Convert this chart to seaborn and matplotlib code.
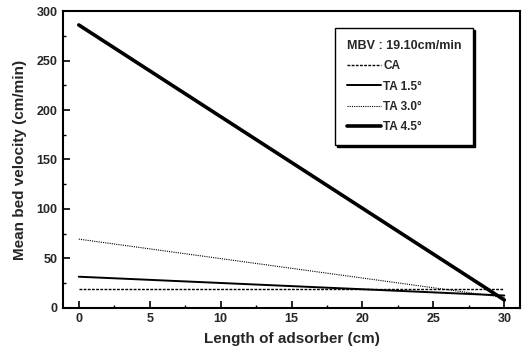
import matplotlib
matplotlib.use("Agg")
import matplotlib.pyplot as plt
import seaborn as sns
import pandas as pd
from matplotlib.ticker import MultipleLocator

sns.set_theme(style="white")
plt.rcParams['font.family'] = ['Liberation Sans', 'DejaVu Sans']

# Data
length_cm = [0, 30]
ca = [19.1, 19.1]
ta15 = [31.5, 12.5]
ta30 = [69.5, 10.5]
ta45 = [286, 8]
series_names = ["CA", "TA 1.5°", "TA 3.0°", "TA 4.5°"]
legend_title = "MBV : 19.10cm/min"

frames = []
for name, vals in zip(series_names, [ca, ta15, ta30, ta45]):
    frames.append(pd.DataFrame({"x": length_cm, "y": vals, "series": name}))
df = pd.concat(frames, ignore_index=True)

fig = plt.figure(figsize=(5.22, 3.58), dpi=100)
ax = fig.add_axes([0.121, 0.140, 0.875, 0.829])

styles = {
    "CA": dict(ls=(0, (2.0, 1.0)), lw=1.0),
    "TA 1.5°": dict(ls="-", lw=1.4),
    "TA 3.0°": dict(ls=(0, (1.0, 1.0)), lw=0.8),
    "TA 4.5°": dict(ls="-", lw=2.6),
}
for name in series_names:
    sub = df[df["series"] == name]
    sns.lineplot(data=sub, x="x", y="y", ax=ax, color="black",
                 linestyle=styles[name]["ls"], linewidth=styles[name]["lw"],
                 label=name, estimator=None)

ax.set_xlim(-1.1, 31.1)
ax.set_ylim(0, 300)
ax.xaxis.set_major_locator(MultipleLocator(5))
ax.xaxis.set_minor_locator(MultipleLocator(2.5))
ax.yaxis.set_major_locator(MultipleLocator(50))
ax.yaxis.set_minor_locator(MultipleLocator(25))
ax.tick_params(axis="both", which="major", direction="in", length=5, width=1.2,
               labelsize=9, color="black", pad=4, bottom=True, left=True)
ax.tick_params(axis="both", which="minor", direction="in", length=2.5, width=1.0,
               color="black", bottom=True, left=True)
for lab in ax.get_xticklabels() + ax.get_yticklabels():
    lab.set_fontweight("bold")
for sp in ax.spines.values():
    sp.set_color("black")
    sp.set_linewidth(1.5)

ax.set_xlabel("Length of adsorber (cm)", fontsize=11, fontweight="bold", labelpad=5)
ax.set_ylabel("Mean bed velocity (cm/min)", fontsize=11, fontweight="bold", labelpad=7)

leg = ax.legend(title=legend_title, loc="upper left", bbox_to_anchor=(0.582, 0.962),
                frameon=True, fancybox=False,
                shadow={"ox": 1.5, "oy": -1.5, "color": "black", "alpha": 1},
                fontsize=8.5, title_fontsize=9, handlelength=2.9, handletextpad=0.2,
                labelspacing=0.7, borderpad=1.0, alignment="left")
leg.get_frame().set_edgecolor("black")
leg.get_frame().set_linewidth(1.0)
for t in leg.get_texts():
    t.set_fontweight("bold")
leg.get_title().set_fontweight("bold")

fig.savefig("out.png", dpi=100)
